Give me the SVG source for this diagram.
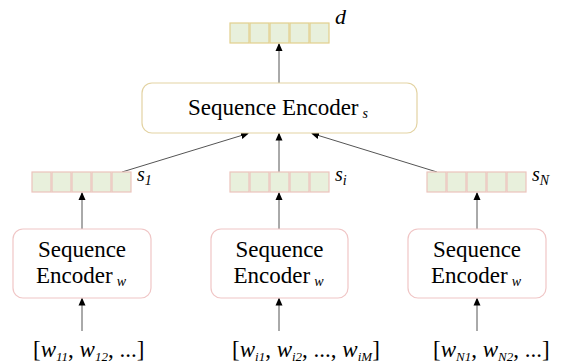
<svg xmlns="http://www.w3.org/2000/svg" width="561" height="363" viewBox="0 0 561 363">
<defs>
<marker id="ah" markerWidth="8" markerHeight="8" refX="7" refY="4" orient="auto" markerUnits="userSpaceOnUse">
<path d="M0,0.5 L8,4 L0,7.5 Z" fill="#000"/>
</marker>
<style>
.t{font-size:23px}
.it{font-style:italic}
.sub{font-size:14px;font-style:italic}
.sb{font-size:13px;font-style:italic}
.cellg{fill:#e8f0dc;stroke:#e2cf8d;stroke-width:1.2}
.cellp{fill:#e8f0dc;stroke:#ebc4bc;stroke-width:1.2}
.enc{fill:#fff;stroke:#f0c6c6;stroke-width:1.2}
.encs{fill:#fff;stroke:#e3d3a3;stroke-width:1.2}
.ln{stroke:#555;stroke-width:1;fill:none;marker-end:url(#ah)}
</style>
</defs>
<rect width="561" height="363" fill="#fff"/>

<g id="connectors">
<line class="ln" x1="279" y1="83" x2="279" y2="44"/>
<line class="ln" x1="122" y1="172" x2="248" y2="133.5"/>
<line class="ln" x1="279" y1="172" x2="279" y2="133.5"/>
<line class="ln" x1="437" y1="172" x2="312" y2="133.5"/>
<line class="ln" x1="82" y1="229" x2="82" y2="193"/>
<line class="ln" x1="279" y1="229" x2="279" y2="193"/>
<line class="ln" x1="477" y1="229" x2="477" y2="193"/>
<line class="ln" x1="82" y1="331" x2="82" y2="298.5"/>
<line class="ln" x1="279" y1="331" x2="279" y2="298.5"/>
<line class="ln" x1="477" y1="331" x2="477" y2="298.5"/>
</g>

<g font-family="'Liberation Serif', 'Times New Roman', serif" fill="#000">
<g id="vec_d">
<rect class="cellg" x="230" y="23" width="19" height="20"/>
<rect class="cellg" x="250" y="23" width="19" height="20"/>
<rect class="cellg" x="270" y="23" width="19" height="20"/>
<rect class="cellg" x="290" y="23" width="19" height="20"/>
<rect class="cellg" x="310" y="23" width="19" height="20"/>
<text class="it" x="335" y="24" font-size="22">d</text>
</g>

<g id="enc_s">
<rect class="encs" x="142" y="83" width="275" height="50" rx="10"/>
<text class="t" x="188" y="115">Sequence Encoder<tspan class="sub" dx="4" dy="3">s</tspan></text>
</g>

<g id="vec_s1">
<rect class="cellp" x="32" y="172" width="19" height="20"/>
<rect class="cellp" x="52" y="172" width="19" height="20"/>
<rect class="cellp" x="72" y="172" width="19" height="20"/>
<rect class="cellp" x="92" y="172" width="19" height="20"/>
<rect class="cellp" x="112" y="172" width="19" height="20"/>
<text class="it" x="137" y="181" font-size="20">s<tspan class="sub" dy="4">1</tspan></text>
</g>

<g id="vec_si">
<rect class="cellp" x="230" y="172" width="19" height="20"/>
<rect class="cellp" x="250" y="172" width="19" height="20"/>
<rect class="cellp" x="270" y="172" width="19" height="20"/>
<rect class="cellp" x="290" y="172" width="19" height="20"/>
<rect class="cellp" x="310" y="172" width="19" height="20"/>
<text class="it" x="335" y="181" font-size="20">s<tspan class="sub" dy="4">i</tspan></text>
</g>

<g id="vec_sN">
<rect class="cellp" x="427" y="172" width="19" height="20"/>
<rect class="cellp" x="447" y="172" width="19" height="20"/>
<rect class="cellp" x="467" y="172" width="19" height="20"/>
<rect class="cellp" x="487" y="172" width="19" height="20"/>
<rect class="cellp" x="507" y="172" width="19" height="20"/>
<text class="it" x="532" y="181" font-size="20">s<tspan class="sub" dy="4">N</tspan></text>
</g>

<g id="enc_w1">
<rect class="enc" x="13" y="229" width="138" height="69" rx="10"/>
<text class="t" x="82" y="257" text-anchor="middle">Sequence</text>
<text class="t" x="36" y="283">Encoder<tspan class="sub" dx="4" dy="3">w</tspan></text>
</g>

<g id="enc_wi">
<rect class="enc" x="211" y="229" width="137" height="69" rx="10"/>
<text class="t" x="279.5" y="257" text-anchor="middle">Sequence</text>
<text class="t" x="233.5" y="283">Encoder<tspan class="sub" dx="4" dy="3">w</tspan></text>
</g>

<g id="enc_wN">
<rect class="enc" x="408" y="229" width="138" height="69" rx="10"/>
<text class="t" x="477" y="257" text-anchor="middle">Sequence</text>
<text class="t" x="431" y="283">Encoder<tspan class="sub" dx="4" dy="3">w</tspan></text>
</g>

<g id="in_1">
<text class="t" x="33" y="357">[<tspan class="it">w</tspan><tspan class="sb" dy="4">11</tspan><tspan dy="-4">, </tspan><tspan class="it">w</tspan><tspan class="sb" dy="4">12</tspan><tspan dy="-4">, ...]</tspan></text>
</g>
<g id="in_i">
<text class="t" x="232" y="357">[<tspan class="it">w</tspan><tspan class="sb" dy="4">i1</tspan><tspan dy="-4">, </tspan><tspan class="it">w</tspan><tspan class="sb" dy="4">i2</tspan><tspan dy="-4">, ..., </tspan><tspan class="it">w</tspan><tspan class="sb" dy="4">iM</tspan><tspan dy="-4">]</tspan></text>
</g>
<g id="in_N">
<text class="t" x="433" y="357">[<tspan class="it">w</tspan><tspan class="sb" dy="4">N1</tspan><tspan dy="-4">, </tspan><tspan class="it">w</tspan><tspan class="sb" dy="4">N2</tspan><tspan dy="-4">, ...]</tspan></text>
</g>
</g>
</svg>
